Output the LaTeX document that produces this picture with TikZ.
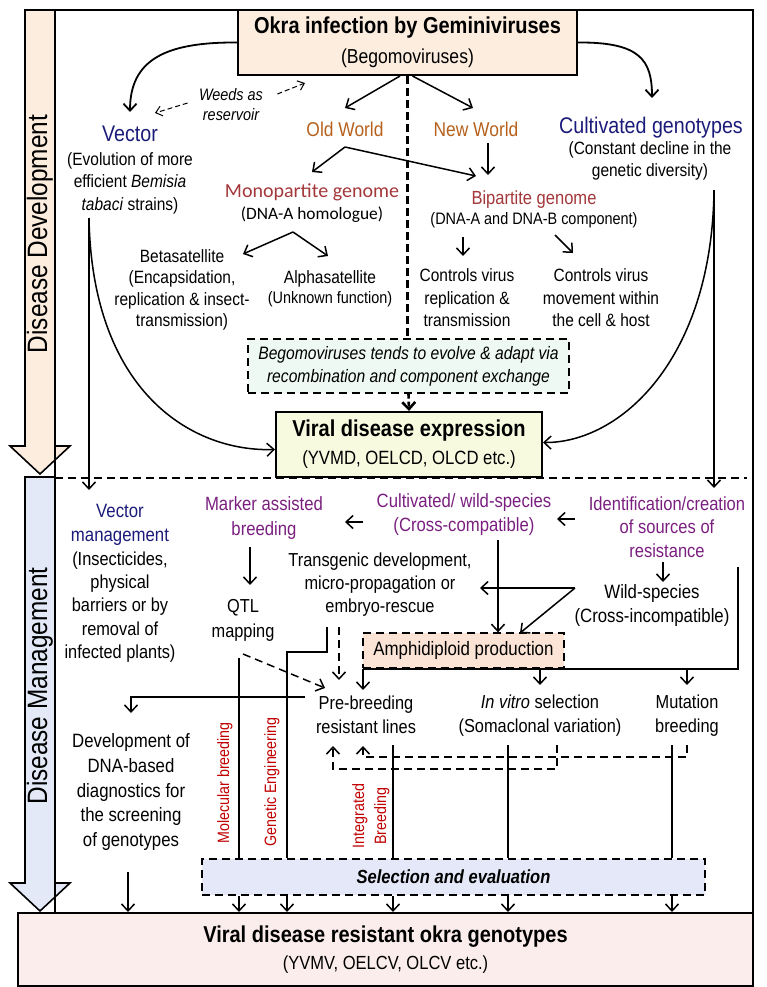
\documentclass[tikz,border=0pt]{standalone}
\usepackage{fontspec}
\setmainfont{Liberation Sans}[FakeStretch=0.87]
\newfontfamily\calfont{Carlito}
\usetikzlibrary{positioning,arrows.meta}

\definecolor{navyhd}{HTML}{1B1B7A}
\definecolor{worldbr}{HTML}{B5611D}
\definecolor{genred}{HTML}{A3373A}
\definecolor{purphd}{HTML}{7A1F80}
\definecolor{pathred}{HTML}{C00000}
\definecolor{peachfill}{HTML}{FDEDDF}
\definecolor{amphfill}{HTML}{FBE4D5}
\definecolor{yellowfill}{HTML}{F7FADF}
\definecolor{mintfill}{HTML}{EEF9F3}
\definecolor{bluearrow}{HTML}{E3E9F7}
\definecolor{selfill}{HTML}{E5E8F8}
\definecolor{pinkfill}{HTML}{FBEDEB}

\tikzset{
  txt/.style={align=center, inner sep=1pt, font=\fontsize{8.9}{11.25}\selectfont},
  txtb/.style={align=center, inner sep=1pt, font=\fontsize{9.4}{12}\selectfont},
  navyhead/.style={align=center, inner sep=1pt, text=navyhd, font=\fontsize{11.3}{13}\selectfont},
  worldhead/.style={align=center, inner sep=1pt, text=worldbr, font=\fontsize{10}{12}\selectfont},
  purphead/.style={align=center, inner sep=1pt, text=purphd, font=\fontsize{9.6}{12}\selectfont},
  pathlab/.style={align=center, inner sep=1pt, text=pathred, rotate=90, font=\fontsize{8.2}{11}\selectfont},
  sidelab/.style={inner sep=0pt, rotate=90, font=\fontsize{14}{16}\selectfont},
  solidbox/.style={draw, line width=1pt, align=center, inner sep=0pt},
  dashbox/.style={draw, dash pattern=on 4pt off 2.5pt, line width=0.7pt, align=center, inner sep=0pt},
  link/.style={line width=0.75pt},
  dlink/.style={line width=0.75pt, dash pattern=on 4pt off 2.5pt},
  weedlink/.style={line width=0.5pt, dash pattern=on 2.5pt off 1.5pt, >={Straight Barb[length=3pt,width=5pt]}},
}

\begin{document}
\begin{tikzpicture}[x=0.5pt, y=-0.5pt, >={Straight Barb[length=3.5pt,width=6.5pt]}]

\useasboundingbox (0,0) rectangle (767,987);

% ======================================
% SIDE ARROWS AND OUTER FRAME
% ======================================
\node[solidbox, fill=pinkfill, minimum width=367.5pt, minimum height=36.5pt, font=\fontsize{9.5}{13.5}\selectfont] (resok) at (385.5,949.5) {{\bfseries\fontsize{11.5}{13.5}\selectfont Viral disease resistant okra genotypes}\\(YVMV, OELCV, OLCV etc.)};

\filldraw[fill=peachfill, line width=0.8pt] (25,10) -- (55,10) -- (55,446) -- (70,446) -- (40,474) -- (10,446) -- (25,446) -- cycle;
\filldraw[fill=bluearrow, line width=0.8pt] (25,477) -- (55,477) -- (55,883) -- (70,883) -- (40,911) -- (10,883) -- (25,883) -- cycle;
\node[sidelab] (devlab) at (40,234) {Disease Development};
\node[sidelab] (mgmtlab) at (40,686) {Disease Management};

\draw[line width=0.9pt] (55,10) rectangle (753,913);
\draw[dash pattern=on 4pt off 2.5pt, line width=0.7pt] (55,478) -- (747,478);

% ======================================
% DISEASE DEVELOPMENT: NODES
% ======================================
\node[solidbox, fill=peachfill, minimum width=169.5pt, minimum height=32.5pt, font=\fontsize{10.1}{15}\selectfont] (okra) at (407.5,42.5) {{\bfseries\fontsize{11.5}{15}\selectfont Okra infection by Geminiviruses}\\(Begomoviruses)};

\node[txt, font=\itshape\fontsize{8.3}{10}\selectfont] (weeds) at (231,105) {Weeds as\\reservoir};
\node[navyhead] (vector) at (130,134) {Vector};
\node[txt] (vecinfo) at (130,183) {(Evolution of more\\efficient \textit{Bemisia}\\\textit{tabaci} strains)};
\node[worldhead] (oldw) at (345,129) {Old World};
\node[worldhead] (neww) at (476,129) {New World};
\node[navyhead] (cultg) at (651,128) {Cultivated genotypes};
\node[txt] (cultinfo) at (650,161) {(Constant decline in the\\genetic diversity)};

\node[align=center, inner sep=1pt, text=genred, font=\calfont\fontsize{10}{12}\selectfont] (mono) at (312,192) {Monopartite genome};
\node[align=center, inner sep=1pt, font=\calfont\fontsize{8.7}{11}\selectfont] (monoinfo) at (312,215) {(DNA-A homologue)};
\node[align=center, inner sep=1pt, text=genred, font=\fontsize{9.5}{11}\selectfont] (bip) at (534,200) {Bipartite genome};
\node[align=center, inner sep=1pt, font=\fontsize{8.3}{10}\selectfont] (bipinfo) at (534,220) {(DNA-A and DNA-B component)};

\node[txt, font=\fontsize{8.9}{10.7}\selectfont] (beta) at (182,290) {Betasatellite\\(Encapsidation,\\replication \& insect-\\transmission)};
\node[txt, font=\fontsize{8.3}{10}\selectfont] (alpha) at (330,289) {{\fontsize{8.9}{10}\selectfont Alphasatellite}\\(Unknown function)};
\node[txt] (ctrlrep) at (467,298) {Controls virus\\replication \&\\transmission};
\node[txt] (ctrlmov) at (601,298) {Controls virus\\movement within\\the cell \& host};

\node[dashbox, fill=mintfill, minimum width=160.5pt, minimum height=27pt, font=\itshape\fontsize{9}{11.5}\selectfont] (evolve) at (408.5,366) {Begomoviruses tends to evolve \& adapt via\\recombination and component exchange};
\node[solidbox, fill=yellowfill, minimum width=133pt, minimum height=32.5pt, font=\fontsize{9.6}{14}\selectfont] (viral) at (409,444.5) {{\bfseries\fontsize{11.5}{14}\selectfont Viral disease expression}\\(YVMD, OELCD, OLCD etc.)};

% ======================================
% DISEASE DEVELOPMENT: CONNECTORS
% ======================================
\coordinate (vectip) at (130,112);
\coordinate (culttip) at (652,98);
\draw[link, line width=0.9pt, ->] (okra.west) .. controls (165,42) and (130,60) .. (vectip);
\draw[link, line width=0.9pt, ->] (okra.east) .. controls (640,42) and (652,60) .. (culttip);

\coordinate (weedl) at (155,113);
\coordinate (weedr) at (305,83);
\draw[weedlink, ->] ([xshift=-4.5pt,yshift=1pt]weeds.west) -- (weedl);
\draw[weedlink, ->] ([xshift=6pt,yshift=5.5pt]weeds.east) -- (weedr);

\coordinate (oldtip) at (345,108);
\coordinate (newtip) at (473,108);
\draw[link, ->] ([xshift=-3.75pt]okra.south) -- (oldtip);
\draw[link, ->] ([xshift=2.5pt]okra.south) -- (newtip);
\draw[line width=1.3pt, dash pattern=on 4pt off 2pt] (okra.south) -- (okra.south |- evolve.north);
\draw[line width=1.3pt, dash pattern=on 2.5pt off 1.5pt, ->] (evolve.south) -- (viral.north);

\coordinate (oldfork) at (345,147);
\draw[link, ->] (oldfork) -- ++(-33,25);
\draw[link, ->] (oldfork) -- ++(131,29);
\coordinate (newfoot) at (488,143);
\draw[link, ->] (newfoot) -- ++(0,32);

\coordinate (monofork) at (293,232);
\draw[link, ->] (monofork) -- ++(-50,22);
\draw[link, ->] (monofork) -- ++(35,24);
\coordinate (bipfootl) at (463,237);
\coordinate (bipfootr) at (555,235);
\draw[link, ->] (bipfootl) -- ++(0,19);
\draw[link, ->] (bipfootr) -- ++(18,18);

\coordinate (vecfoot) at (89,218);
\draw[link, ->] (vecfoot) .. controls (92,390) and (190,452) .. ([yshift=-2.5pt]viral.west);
\draw[link, ->] (vecfoot) -- ++(0,272);
\coordinate (cultfoot) at (714,190);
\draw[link, ->] (cultfoot) .. controls (712,360) and (620,443) .. ([yshift=1pt]viral.east);
\draw[link, ->] (cultfoot) -- ++(0,298);

% ======================================
% DISEASE MANAGEMENT: NODES
% ======================================
\node[navyhead, font=\fontsize{9.65}{12}\selectfont] (vmhead) at (120,525) {Vector\\management};
\node[txt, font=\fontsize{9.4}{11.6}\selectfont] (vminfo) at (120,607) {(Insecticides,\\physical\\barriers or by\\removal of\\infected plants)};
\node[purphead, font=\fontsize{9.6}{12.5}\selectfont] (mab) at (264,518) {Marker assisted\\breeding};
\node[purphead] (crossc) at (464,515) {Cultivated/ wild-species\\(Cross-compatible)};
\node[purphead, font=\fontsize{9.5}{11.75}\selectfont] (idsrc) at (667,527) {Identification/creation\\of sources of\\resistance};
\node[txtb, font=\fontsize{9.65}{12}\selectfont] (crossi) at (652,605) {Wild-species\\(Cross-incompatible)};
\node[txtb, font=\fontsize{9.4}{12.5}\selectfont] (qtl) at (243,620) {QTL\\mapping};
\node[txtb, font=\fontsize{9.4}{11.5}\selectfont] (transg) at (380,585) {Transgenic development,\\micro-propagation or\\embryo-rescue};
\node[dashbox, fill=amphfill, minimum width=100.5pt, minimum height=17.5pt, font=\fontsize{9.7}{12}\selectfont] (amph) at (463.5,650.5) {Amphidiploid production};
\node[txtb] (prebr) at (366,715) {Pre-breeding\\resistant lines};
\node[txtb] (invitro) at (540,716) {\textit{In vitro} selection\\(Somaclonal variation)};
\node[txtb] (mutbr) at (687,716) {Mutation\\breeding};
\node[txtb, font=\fontsize{9.65}{12.4}\selectfont] (dnadiag) at (131,792) {Development of\\DNA-based\\diagnostics for\\the screening\\of genotypes};
\node[dashbox, fill=selfill, minimum width=251.5pt, minimum height=18pt, font=\bfseries\itshape\fontsize{9.5}{11}\selectfont] (seleval) at (453.5,877) {Selection and evaluation};

\node[pathlab] (molbr) at (225,783) {Molecular breeding};
\node[pathlab] (geneng) at (272,782) {Genetic Engineering};
\node[pathlab] (intbr) at (371,816) {Integrated\\Breeding};

% ======================================
% DISEASE MANAGEMENT: CONNECTORS
% ======================================
\coordinate (idw) at (575,519);
\draw[link, ->] (idw) -- ++(-18,0);
\coordinate (ccw) at (363,522);
\draw[link, ->] (ccw) -- ++(-18,0);
\coordinate (ids) at (663,562);
\draw[link, ->] (ids) -- ++(0,20);
\coordinate (ccs) at (498,540);
\draw[link, ->] (ccs) -- (ccs |- amph.north);
\coordinate (wildfork) at (575,588);
\draw[link, ->] (wildfork) -- ++(-95,0);
\draw[link, ->] (wildfork) -- ++(-55,45);
\coordinate (mabs) at (250,547);
\draw[link, ->] (mabs) -- ++(0,38);

\coordinate (trfoot) at (327,627);
\coordinate (genfoot) at (287,652);
\draw[link] (trfoot) -- (trfoot |- genfoot) -- (genfoot) -- (genfoot |- seleval.north);
\coordinate (trdash) at (339,627);
\draw[dlink, ->] (trdash) -- ++(0,53);
\coordinate (qtlfoot) at (239,658);
\draw[link] (qtlfoot) -- (qtlfoot |- seleval.north);
\coordinate (qtldash) at (243,654);
\draw[dlink, ->] (qtldash) -- ++(82,34);

\coordinate (busr) at (738,567);
\coordinate (busl) at (363,669);
\draw[link] (busr) -- (busr |- busl) -- (busl);
\draw[link, ->] (busl) -- ++(0,21);
\draw[link, ->] (busl -| invitro) -- ++(0,16);
\draw[link, ->] (busl -| mutbr) -- ++(0,16);

\coordinate (prew) at (305,697);
\draw[link, ->] (prew) -- (prew -| dnadiag) -- ++(0,16);

\coordinate (intfoot) at (393,745);
\coordinate (somfoot) at (508,745);
\coordinate (mutfoot) at (672,745);
\foreach \c in {intfoot, somfoot, mutfoot}
  \draw[link] (\c) -- (\c |- seleval.north);

\coordinate (invdash) at (557,745);
\coordinate (mutdash) at (687,745);
\draw[dlink, ->] (invdash) -- ++(0,24) -- ++(-224,0) -- ++(0,-23);
\draw[dlink, ->] (mutdash) -- ++(0,12) -- ++(-324,0) -- ++(0,-11);

\foreach \c in {qtlfoot, genfoot, intfoot, somfoot, mutfoot}
  \draw[link, ->] (\c |- seleval.south) -- (\c |- resok.north);
\coordinate (diagfoot) at (128,872);
\draw[link, ->] (diagfoot) -- (diagfoot |- resok.north);

\end{tikzpicture}
\end{document}
